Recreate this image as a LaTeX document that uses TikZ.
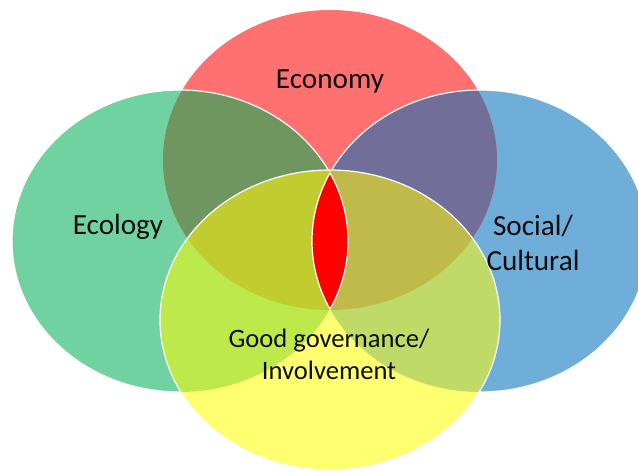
\documentclass[tikz,border=0pt]{standalone}
\usepackage{fontspec}
\setmainfont{Carlito}
\usetikzlibrary{positioning}

\definecolor{ecored}{HTML}{FF7070}
\definecolor{ecogreen}{HTML}{70D2A0}
\definecolor{socblue}{HTML}{70AEDA}
\definecolor{govyellow}{HTML}{FFFF70}
\definecolor{redgreen}{HTML}{6F9660}
\definecolor{redblue}{HTML}{716F99}
\definecolor{yelgreen}{HTML}{BDEA4A}
\definecolor{yelblue}{HTML}{C0DA68}
\definecolor{yelredgreen}{HTML}{C0CC30}
\definecolor{yelredblue}{HTML}{C0BA4A}

\newcommand{\econpath}{(330,160) ellipse (167 and 150)}
\newcommand{\ecolpath}{(180,241) ellipse (168 and 151)}
\newcommand{\socpath}{(480,241) ellipse (168 and 151)}
\newcommand{\govpath}{(330,320) ellipse (170 and 150)}

\begin{document}
\begin{tikzpicture}[x=0.5pt,y=-0.5pt,
	label/.style={font=\fontsize{14.6}{17.5}\selectfont,text=black!95,align=center},
	rim/.style={draw=white,line width=0.6pt}]

\useasboundingbox (0,0) rectangle (638,473);
\clip (0,0) rectangle (638,473);

% plain sets
\fill[ecogreen] \ecolpath;
\fill[socblue] \socpath;
\fill[ecored] \econpath;
\begin{scope}
	\clip \econpath;
	\fill[redgreen] \ecolpath;
	\fill[redblue] \socpath;
\end{scope}
\draw[rim] \ecolpath;
\draw[rim] \socpath;

% governance on top
\fill[govyellow] \govpath;
\begin{scope}
	\clip \govpath;
	\fill[yelgreen] \ecolpath;
	\fill[yelblue] \socpath;
	\clip \econpath;
	\fill[yelredgreen] \ecolpath;
	\fill[yelredblue] \socpath;
\end{scope}
\draw[rim] \govpath;

% centre lens
\begin{scope}
	\clip \ecolpath;
	\fill[red] \socpath;
	\draw[rim] \socpath;
\end{scope}
\begin{scope}
	\clip \socpath;
	\draw[rim] \ecolpath;
\end{scope}

\node[label] (Econ) at (330,81) {Economy};
\node[label] (Ecol) at (118,227) {Ecology};
\node[label] (Soc) at (533,243) {Social/\\Cultural};
\node[label,font=\fontsize{13.3}{16}\selectfont] (Gov) at (329,354) {Good governance/\\Involvement};
\end{tikzpicture}
\end{document}
